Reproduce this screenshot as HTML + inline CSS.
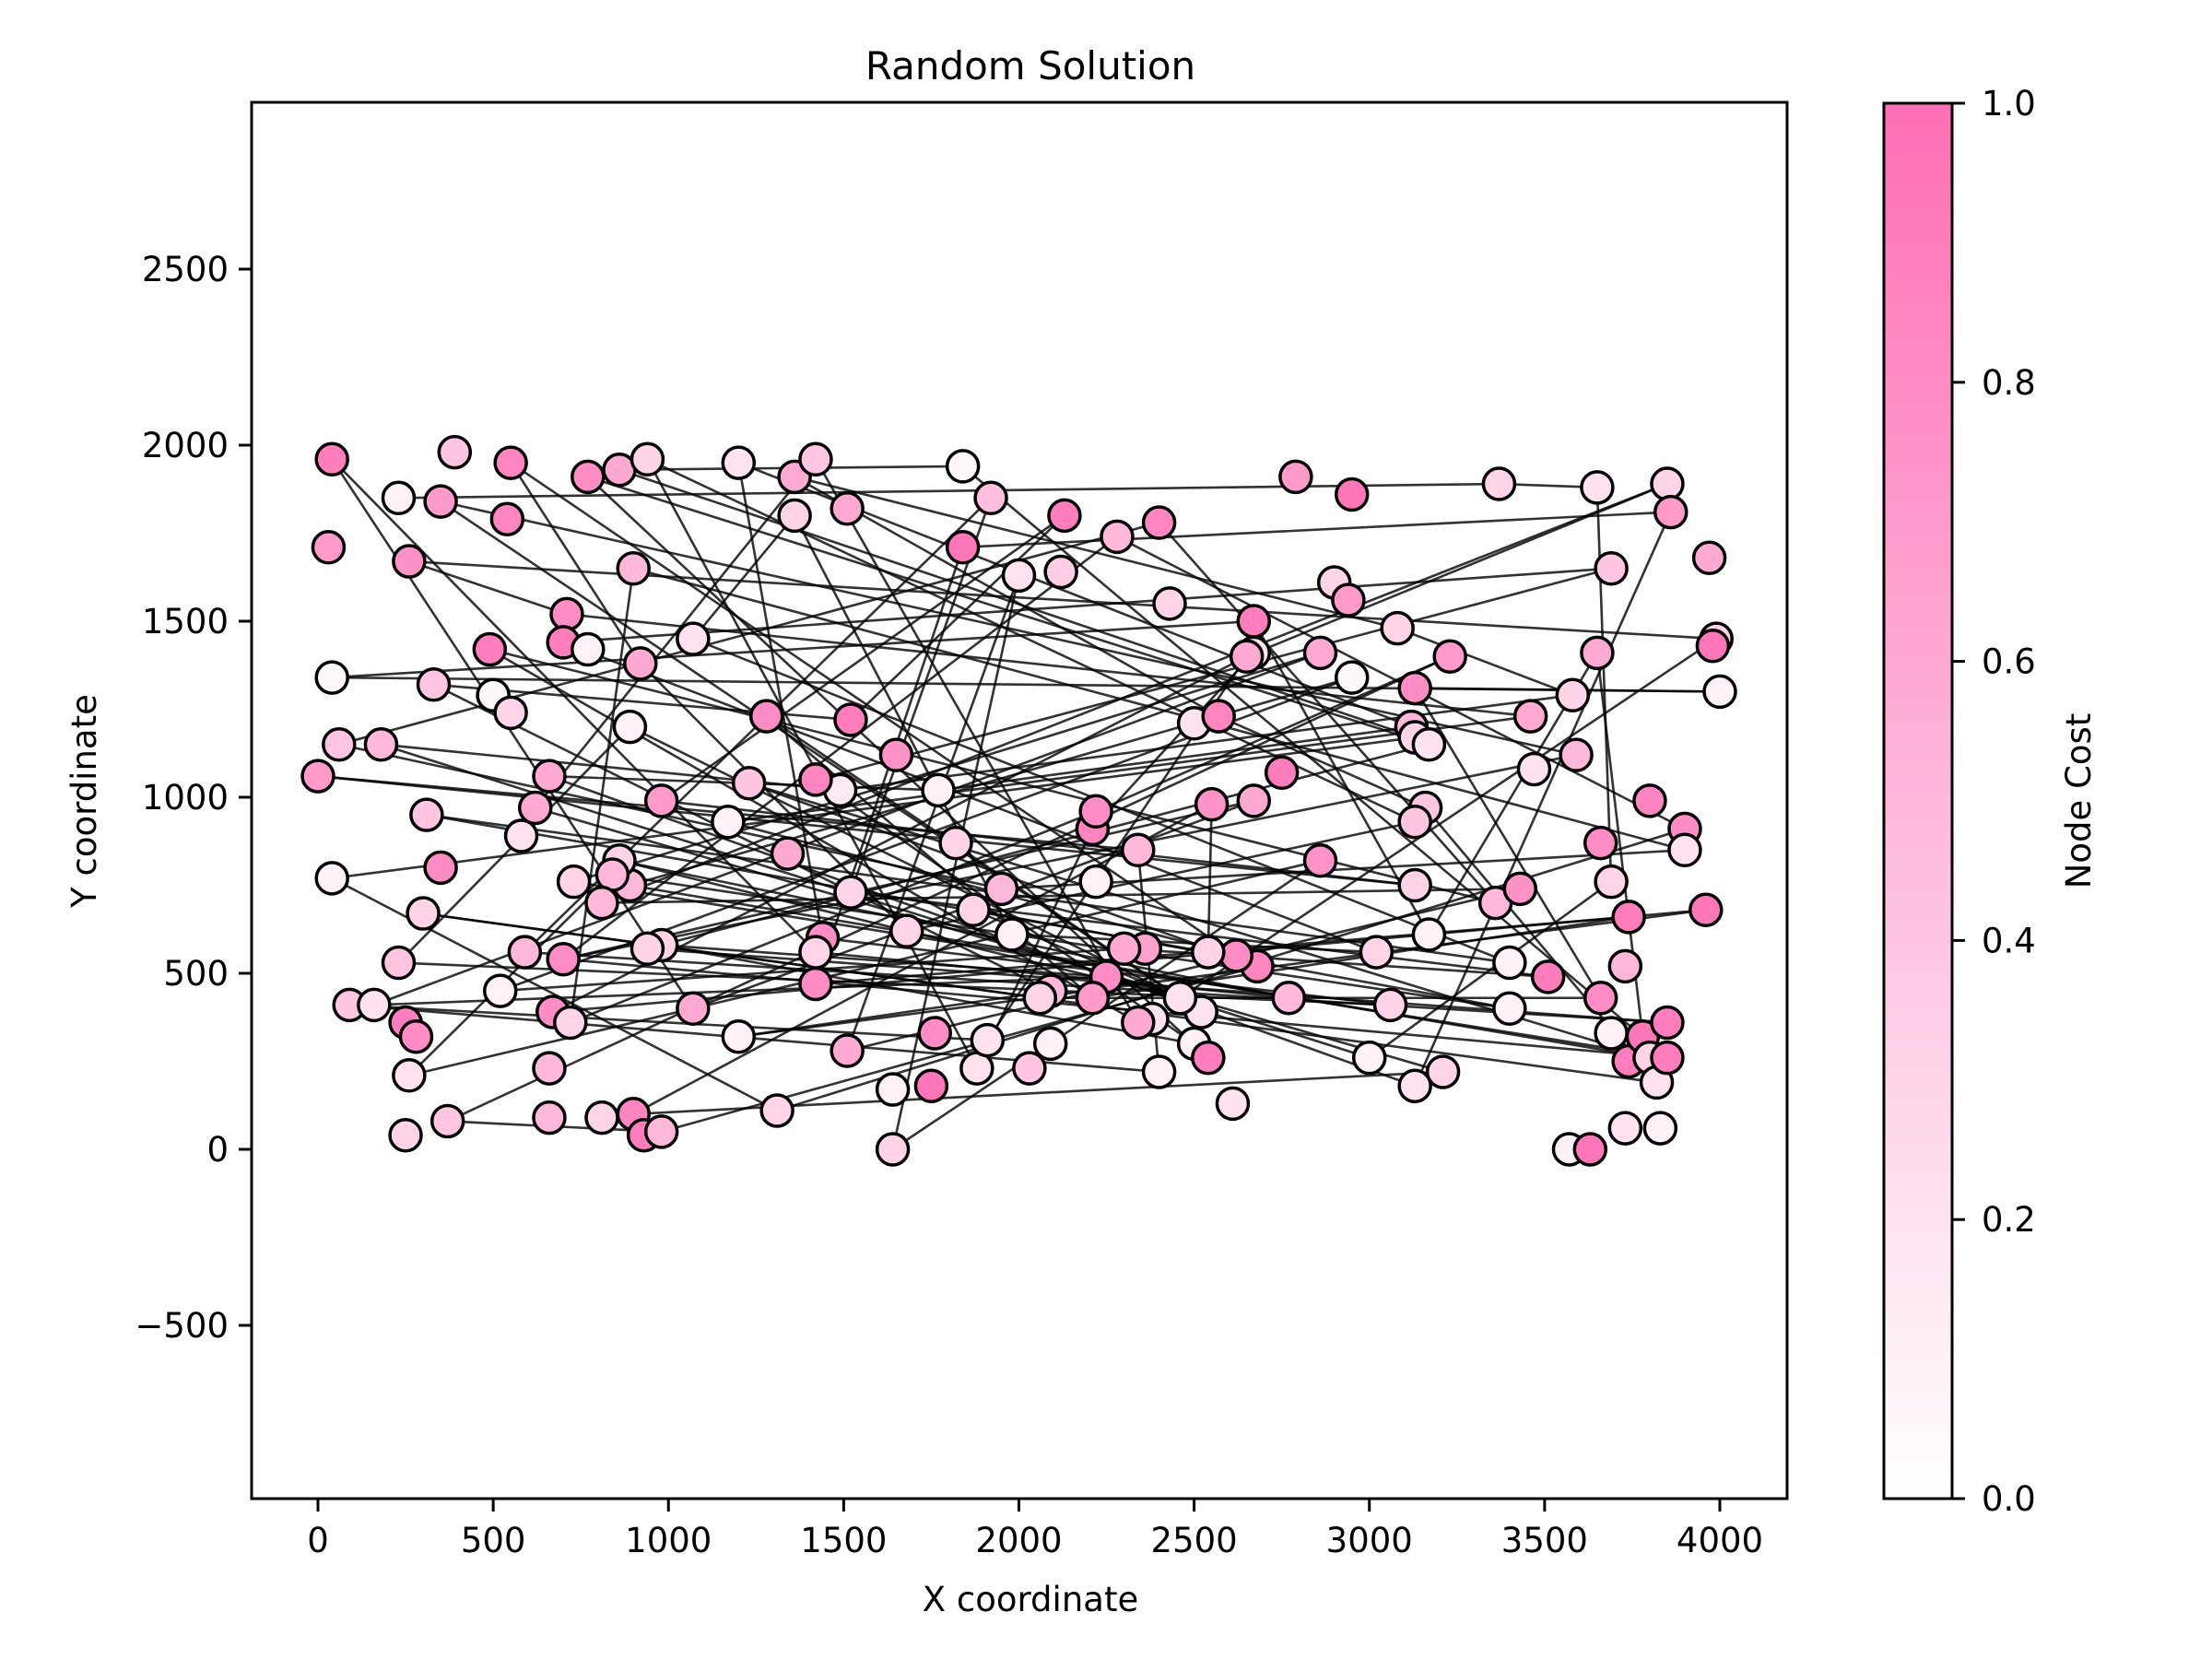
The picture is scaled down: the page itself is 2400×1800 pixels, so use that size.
<!DOCTYPE html>
<html><head><meta charset="utf-8"><style>
html,body{margin:0;padding:0;background:#fff;}
svg{display:block;font-family:"DejaVu Sans","Liberation Sans",sans-serif;}
</style></head><body>
<svg id="chart" width="2400" height="1800" viewBox="0 0 2400 1800">
<defs><linearGradient id="cg" x1="0" y1="1" x2="0" y2="0"><stop offset="0" stop-color="#ffffff"/><stop offset="1" stop-color="#ff6fb5"/></linearGradient></defs>
<rect width="2400" height="1800" fill="#fff"/>
<text x="1118" y="86" font-size="42" text-anchor="middle">Random Solution</text>
<g id="lines"></g>
<g id="nodes"></g>
<rect x="273" y="111" width="1666" height="1515" fill="none" stroke="#000" stroke-width="3"/>
<g id="xt"></g>
<g id="yt"></g>
<text x="1118" y="1748" font-size="37" text-anchor="middle">X coordinate</text>
<text transform="translate(104,869) rotate(-90)" font-size="37" text-anchor="middle">Y coordinate</text>
<rect x="2044" y="112" width="74" height="1514" fill="url(#cg)" stroke="#000" stroke-width="3"/>
<g id="ct"></g>
<text transform="translate(2268,869) rotate(-90)" font-size="37" text-anchor="middle">Node Cost</text>
</svg>
<script>
const xs=[40,30,390,550,230,350,260,540,770,860,940,1200,1360,1420,1360,1510,1840,1840,1920,2000,2120,2130,2280,2400,2790,2950,3370,3650,3850,3860,3970,3990,3980,4000,3690,3650,3580,3590,3470,3460,3230,3080,2900,2940,2950,2860,2670,2670,2650,2430,2500,2570,2750,2670,2550,3130,3120,3130,3170,3160,3130,2860,3130,3170,3020,3060,3360,3430,3400,3400,3510,3660,3690,3740,3730,3660,3690,3740,3780,3800,3820,3850,3850,3800,3900,3900,3960,3730,3830,3570,3630,3210,3130,3000,2770,2680,2620,2540,2520,2500,2460,2540,2610,2400,2380,2340,2360,2300,2250,2210,2220,2210,2220,2340,2090,2090,2060,2030,1980,1950,1870,1820,1770,1680,1650,1520,1490,1420,1520,1440,1420,1420,1510,1640,1640,1750,1760,1880,1910,1340,1280,1230,1170,1200,1310,1070,1070,980,940,980,920,890,900,890,860,840,810,900,930,980,810,710,700,770,730,700,670,720,660,660,490,500,550,330,40,60,180,0,660,620,580,310,350,300,230,590,520,40,90,160,250,280,260,250,370];
const ys=[1960,1710,1980,1950,1850,1840,1670,1790,1910,1930,1960,1950,1910,1960,1800,1820,1940,1710,1850,1630,1640,1800,1740,1780,1910,1860,1890,1880,1890,1810,1680,1450,1430,1300,1650,1410,1290,1120,1080,1230,1400,1480,1610,1560,1340,1410,1500,1410,1400,1550,1210,1230,1070,990,980,1310,1200,1170,1150,970,930,820,750,610,560,410,700,740,530,400,490,870,760,660,520,430,330,250,320,260,190,360,260,990,910,850,680,60,60,0,0,220,180,260,430,520,550,560,390,300,430,260,130,220,370,360,570,570,490,430,760,910,960,850,300,450,430,230,610,740,680,870,1020,620,1120,1220,1020,1050,730,600,560,470,280,170,0,180,330,230,310,840,1230,1040,930,320,110,1450,400,580,570,990,1380,1200,1650,750,820,780,700,100,40,50,90,1520,1440,1420,760,540,390,360,230,90,1420,1290,1240,1320,1340,1150,1150,1060,1060,970,890,950,800,670,530,560,450,770,410,410,360,320,210,40,80];
const costs=[0.9,0.7,0.4,0.85,0.1,0.7,0.75,0.85,0.8,0.6,0.3,0.2,0.6,0.4,0.3,0.6,0.05,0.95,0.45,0.2,0.35,0.9,0.5,0.85,0.7,0.95,0.3,0.2,0.3,0.7,0.6,0.3,0.95,0.1,0.4,0.6,0.3,0.5,0.2,0.6,0.7,0.3,0.3,0.7,0.05,0.6,0.9,0.2,0.6,0.3,0.2,0.85,0.9,0.6,0.75,0.8,0.5,0.3,0.2,0.4,0.4,0.75,0.3,0.1,0.3,0.3,0.5,0.75,0.1,0.1,0.9,0.8,0.3,0.9,0.5,0.8,0.1,0.9,0.95,0.3,0.2,0.9,0.9,0.85,0.8,0.2,0.95,0.2,0.1,0.1,0.95,0.3,0.2,0.1,0.5,0.85,0.8,0.3,0.2,0.1,0.2,0.9,0.2,0.1,0.2,0.6,0.65,0.6,0.8,0.7,0.1,0.85,0.8,0.5,0.1,0.5,0.3,0.4,0.1,0.5,0.3,0.3,0.1,0.3,0.75,0.9,0.15,0.85,0.3,0.8,0.3,0.8,0.6,0.1,0.3,0.95,0.8,0.2,0.2,0.6,0.8,0.4,0.1,0.1,0.3,0.2,0.6,0.3,0.3,0.7,0.6,0.1,0.5,0.5,0.3,0.5,0.5,0.85,0.9,0.5,0.3,0.8,0.9,0.1,0.3,0.8,0.8,0.3,0.5,0.5,0.9,0.05,0.3,0.4,0.05,0.4,0.5,0.7,0.6,0.6,0.2,0.4,0.8,0.3,0.4,0.5,0.1,0.1,0.4,0.2,0.9,0.8,0.2,0.3,0.4];
const route=[4,26,27,72,93,176,126,36,41,12,51,59,80,183,116,75,55,33,174,46,63,35,78,16,9,57,187,144,84,22,165,37,5,98,140,109,73,131,17,29,92,178,122,56,11,129,65,184,151,100,31,6,161,39,142,96,3,150,123,60,10,137,111,47,166,86,143,115,173,125,21,149,62,177,113,103,188,138,48,28,156,67,132,19,134,114,61,192,155,69,120,100,154,94,130,0,146,53,165,82,164,45,189,108,147,99,127,34,162,64,118,14,145,68,181,97,54,157,91,179,13,105,170,66,23,175,119,85,152,167,112,40,194,159,95,141,79,153,44,186,107,70,128,18,185,81,148,58,8,101];
const xTicks=[0,500,1000,1500,2000,2500,3000,3500,4000];
const yTicks=[-500,0,500,1000,1500,2000,2500];
const yTickLabels=["\u2212500","0","500","1000","1500","2000","2500"];
const cTicks=[0,0.2,0.4,0.6,0.8,1.0];
const cTickLabels=["0.0","0.2","0.4","0.6","0.8","1.0"];

const NS="http://www.w3.org/2000/svg";
function X(v){return 345+v*0.38025;}
function Y(v){return 1247-v*0.382;}
function C(v){return 1626-v*1514;}
function col(c){const r=255,g=Math.round(255+(111-255)*c),b=Math.round(255+(181-255)*c);return `rgb(${r},${g},${b})`;}
function mk(tag,attrs,parent){const e=document.createElementNS(NS,tag);for(const k in attrs)e.setAttribute(k,attrs[k]);parent.appendChild(e);return e;}

const lg=document.getElementById('lines');
for(let i=0;i<route.length-1;i++){
  const a=route[i],b=route[i+1];
  const l=mk('line',{x1:X(xs[a]),y1:Y(ys[a]),x2:X(xs[b]),y2:Y(ys[b]),stroke:'#000','stroke-width':2.6,'stroke-opacity':0.8},lg);
  
  
}
const ng=document.getElementById('nodes');
for(let i=0;i<xs.length;i++){
  const c=mk('circle',{cx:X(xs[i]),cy:Y(ys[i]),r:17,fill:col(costs[i]),stroke:'#000','stroke-width':3.5},ng);
  
  
}
const xt=document.getElementById('xt');
xTicks.forEach(v=>{
  const t=mk('line',{x1:X(v),y1:1626,x2:X(v),y2:1640,stroke:'#000','stroke-width':3},xt);
  
  
  const s=mk('text',{x:X(v),y:1684,'font-size':37,'text-anchor':'middle'},xt);s.textContent=v;
  
  
});
const yt=document.getElementById('yt');
yTicks.forEach((v,i)=>{
  const t=mk('line',{x1:259,y1:Y(v),x2:273,y2:Y(v),stroke:'#000','stroke-width':3},yt);
  
  
  const s=mk('text',{x:248,y:Y(v)+13,'font-size':37,'text-anchor':'end'},yt);s.textContent=yTickLabels[i];
  
  
});
const ct=document.getElementById('ct');
cTicks.forEach((v,i)=>{
  const t=mk('line',{x1:2118,y1:C(v),x2:2132,y2:C(v),stroke:'#000','stroke-width':3},ct);
  
  
  const s=mk('text',{x:2150,y:C(v)+13,'font-size':37},ct);s.textContent=cTickLabels[i];
  
  
});
</script>
</body></html>
